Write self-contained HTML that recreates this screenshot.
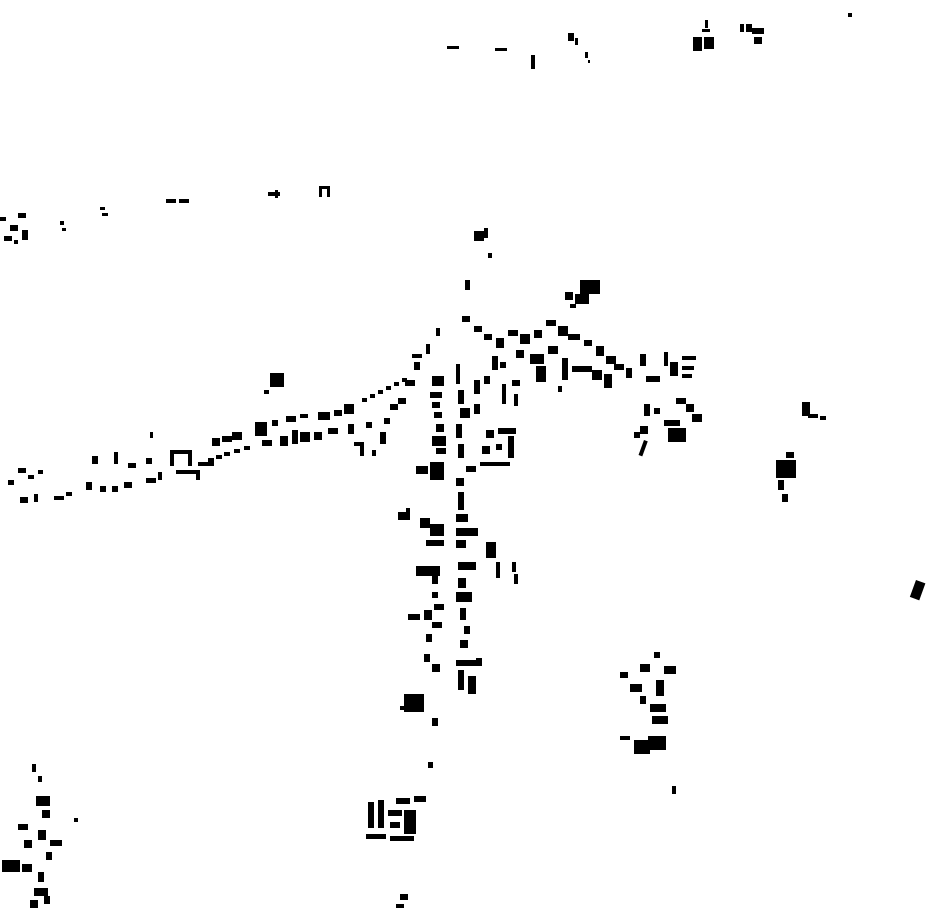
<!DOCTYPE html>
<html><head><meta charset="utf-8"><style>html,body{margin:0;padding:0;background:#fff}svg{display:block}</style></head>
<body>
<svg width="930" height="924" viewBox="0 0 930 924" xmlns="http://www.w3.org/2000/svg" fill="#000">
<rect x="447" y="46" width="12" height="3"/><rect x="495" y="48" width="12" height="3"/>
<rect x="531" y="55" width="4" height="14"/><rect x="568" y="33" width="6" height="8"/><rect x="575" y="38" width="3" height="7"/><rect x="585" y="52" width="3" height="6"/><rect x="588" y="60" width="2" height="3"/>
<rect x="693" y="37" width="9" height="14"/><rect x="704" y="37" width="10" height="12"/><rect x="705" y="20" width="3" height="8"/><rect x="702" y="29" width="8" height="3"/>
<rect x="740" y="24" width="4" height="8"/><rect x="746" y="24" width="6" height="8"/><rect x="752" y="28" width="12" height="6"/><rect x="754" y="37" width="8" height="7"/>
<rect x="848" y="13" width="4" height="4"/>
<rect x="0" y="217" width="6" height="4"/><rect x="18" y="213" width="8" height="5"/><rect x="10" y="225" width="8" height="6"/><rect x="4" y="236" width="8" height="5"/><rect x="22" y="230" width="6" height="10"/><rect x="14" y="240" width="4" height="4"/>
<rect x="60" y="221" width="4" height="4"/><rect x="62" y="228" width="4" height="3"/><rect x="100" y="207" width="5" height="3"/><rect x="102" y="213" width="6" height="3"/>
<rect x="166" y="199" width="10" height="4"/><rect x="179" y="199" width="10" height="4"/>
<rect x="268" y="192" width="12" height="4"/><rect x="275" y="190" width="3" height="8"/>
<rect x="319" y="186" width="10" height="3"/><rect x="319" y="186" width="3" height="11"/><rect x="327" y="186" width="3" height="11"/>
<rect x="474" y="231" width="10" height="10"/><rect x="484" y="228" width="4" height="10"/><rect x="488" y="253" width="4" height="5"/>
<rect x="465" y="280" width="5" height="10"/><rect x="580" y="280" width="20" height="14"/><rect x="565" y="292" width="8" height="8"/><rect x="575" y="294" width="14" height="10"/><rect x="570" y="304" width="6" height="4"/>
<rect x="270" y="373" width="14" height="14"/><rect x="264" y="390" width="5" height="4"/>
<g>
<rect x="8" y="480" width="6" height="5"/><rect x="18" y="468" width="8" height="5"/><rect x="28" y="475" width="6" height="4"/><rect x="38" y="470" width="5" height="4"/>
<rect x="20" y="497" width="8" height="6"/><rect x="34" y="494" width="4" height="8"/><rect x="54" y="496" width="10" height="4"/><rect x="66" y="492" width="6" height="4"/>
<rect x="86" y="482" width="6" height="8"/><rect x="92" y="456" width="6" height="8"/><rect x="100" y="486" width="6" height="6"/><rect x="112" y="486" width="6" height="6"/><rect x="114" y="452" width="4" height="12"/>
<rect x="124" y="482" width="8" height="6"/><rect x="128" y="463" width="8" height="5"/><rect x="146" y="478" width="10" height="5"/><rect x="146" y="458" width="6" height="6"/>
<rect x="158" y="472" width="4" height="8"/><rect x="170" y="450" width="22" height="4"/><rect x="170" y="450" width="4" height="16"/><rect x="188" y="450" width="4" height="16"/>
<rect x="150" y="432" width="3" height="6"/><rect x="198" y="462" width="16" height="4"/><rect x="196" y="470" width="4" height="10"/>
<rect x="208" y="458" width="6" height="4"/><rect x="216" y="455" width="6" height="4"/><rect x="224" y="452" width="6" height="4"/><rect x="234" y="449" width="6" height="4"/><rect x="244" y="446" width="6" height="4"/>
<rect x="176" y="470" width="22" height="4"/><rect x="212" y="438" width="8" height="8"/><rect x="222" y="436" width="10" height="6"/><rect x="232" y="432" width="10" height="8"/>
<rect x="255" y="422" width="12" height="14"/><rect x="262" y="440" width="10" height="6"/>
<rect x="272" y="420" width="6" height="6"/><rect x="280" y="436" width="8" height="10"/><rect x="292" y="430" width="6" height="14"/><rect x="300" y="432" width="10" height="10"/>
<rect x="286" y="416" width="10" height="6"/><rect x="300" y="414" width="8" height="4"/><rect x="318" y="412" width="12" height="8"/><rect x="334" y="410" width="8" height="6"/>
<rect x="314" y="432" width="8" height="8"/><rect x="328" y="428" width="10" height="6"/><rect x="344" y="404" width="10" height="10"/><rect x="348" y="424" width="6" height="10"/>
<rect x="354" y="442" width="10" height="4"/><rect x="360" y="446" width="4" height="10"/><rect x="366" y="422" width="6" height="6"/><rect x="372" y="450" width="4" height="6"/>
<rect x="380" y="432" width="6" height="12"/><rect x="384" y="418" width="6" height="6"/><rect x="390" y="404" width="8" height="6"/><rect x="398" y="398" width="8" height="6"/>
<rect x="362" y="398" width="5" height="4"/><rect x="370" y="394" width="5" height="4"/><rect x="378" y="390" width="5" height="4"/><rect x="386" y="386" width="5" height="4"/><rect x="394" y="382" width="5" height="4"/><rect x="402" y="378" width="5" height="4"/>
<rect x="405" y="380" width="10" height="6"/><rect x="412" y="354" width="10" height="4"/><rect x="426" y="344" width="4" height="10"/>
<rect x="436" y="328" width="4" height="8"/><rect x="432" y="376" width="12" height="10"/><rect x="414" y="362" width="6" height="8"/>
</g>
<g>
<rect x="430" y="392" width="12" height="6"/><rect x="432" y="402" width="8" height="6"/><rect x="434" y="412" width="8" height="6"/><rect x="436" y="424" width="8" height="8"/>
<rect x="432" y="436" width="14" height="10"/><rect x="436" y="448" width="10" height="6"/><rect x="416" y="466" width="12" height="8"/><rect x="430" y="462" width="14" height="18"/>
<rect x="456" y="364" width="4" height="20"/><rect x="458" y="390" width="6" height="14"/><rect x="460" y="408" width="10" height="10"/><rect x="456" y="424" width="6" height="14"/>
<rect x="458" y="444" width="6" height="14"/><rect x="466" y="466" width="10" height="6"/><rect x="456" y="478" width="8" height="8"/><rect x="458" y="492" width="6" height="18"/>
<rect x="456" y="514" width="12" height="8"/><rect x="398" y="512" width="12" height="8"/><rect x="406" y="508" width="4" height="6"/><rect x="420" y="518" width="10" height="10"/>
<rect x="430" y="524" width="14" height="12"/><rect x="426" y="540" width="18" height="6"/><rect x="456" y="528" width="22" height="8"/><rect x="456" y="540" width="10" height="8"/>
<rect x="486" y="542" width="10" height="16"/><rect x="458" y="562" width="18" height="8"/><rect x="416" y="566" width="24" height="10"/><rect x="432" y="576" width="6" height="8"/>
<rect x="496" y="562" width="4" height="16"/><rect x="512" y="562" width="4" height="10"/><rect x="514" y="574" width="4" height="10"/><rect x="458" y="578" width="8" height="10"/>
<rect x="456" y="592" width="16" height="10"/><rect x="432" y="592" width="6" height="6"/><rect x="434" y="604" width="10" height="6"/><rect x="408" y="614" width="12" height="6"/>
<rect x="424" y="610" width="8" height="10"/><rect x="460" y="608" width="6" height="12"/><rect x="432" y="622" width="10" height="6"/><rect x="464" y="626" width="6" height="8"/>
<rect x="426" y="634" width="6" height="8"/><rect x="460" y="640" width="8" height="8"/><rect x="424" y="654" width="6" height="8"/><rect x="456" y="660" width="24" height="6"/>
<rect x="432" y="664" width="8" height="8"/><rect x="458" y="670" width="6" height="20"/><rect x="468" y="676" width="8" height="18"/><rect x="476" y="658" width="6" height="8"/>
<rect x="404" y="694" width="20" height="18"/><rect x="400" y="706" width="10" height="4"/><rect x="432" y="718" width="6" height="8"/><rect x="428" y="762" width="5" height="6"/>
</g>
<g>
<rect x="462" y="316" width="8" height="6"/><rect x="474" y="326" width="8" height="6"/><rect x="484" y="334" width="8" height="6"/><rect x="496" y="338" width="8" height="10"/>
<rect x="508" y="330" width="10" height="6"/><rect x="520" y="334" width="10" height="10"/><rect x="534" y="330" width="8" height="8"/><rect x="546" y="320" width="10" height="6"/>
<rect x="516" y="350" width="8" height="8"/><rect x="530" y="354" width="14" height="10"/><rect x="536" y="366" width="10" height="16"/><rect x="548" y="346" width="10" height="8"/>
<rect x="558" y="326" width="10" height="10"/><rect x="568" y="334" width="12" height="6"/><rect x="584" y="340" width="8" height="6"/><rect x="596" y="346" width="8" height="10"/>
<rect x="606" y="356" width="10" height="8"/><rect x="562" y="358" width="6" height="22"/><rect x="572" y="366" width="20" height="6"/><rect x="592" y="370" width="10" height="10"/>
<rect x="604" y="374" width="8" height="14"/><rect x="614" y="364" width="10" height="6"/><rect x="626" y="368" width="6" height="10"/><rect x="640" y="354" width="6" height="12"/>
<rect x="646" y="376" width="14" height="6"/><rect x="664" y="352" width="4" height="14"/><rect x="670" y="362" width="8" height="14"/><rect x="682" y="356" width="14" height="4"/>
<rect x="682" y="366" width="12" height="4"/><rect x="682" y="374" width="10" height="4"/><rect x="492" y="356" width="6" height="14"/><rect x="500" y="362" width="6" height="6"/>
<rect x="474" y="380" width="6" height="14"/><rect x="484" y="376" width="6" height="8"/><rect x="474" y="404" width="6" height="10"/><rect x="502" y="384" width="4" height="20"/>
<rect x="512" y="380" width="8" height="6"/><rect x="514" y="394" width="4" height="12"/><rect x="486" y="430" width="8" height="8"/><rect x="498" y="428" width="18" height="6"/>
<rect x="482" y="446" width="8" height="8"/><rect x="480" y="462" width="30" height="4"/><rect x="508" y="436" width="6" height="22"/><rect x="496" y="444" width="6" height="6"/>
<rect x="558" y="386" width="4" height="6"/><rect x="644" y="404" width="6" height="12"/><rect x="640" y="426" width="8" height="8"/><rect x="634" y="432" width="6" height="6"/>
<rect x="664" y="420" width="16" height="6"/><rect x="668" y="428" width="18" height="14"/><rect x="676" y="398" width="10" height="6"/><rect x="686" y="404" width="8" height="8"/><rect x="692" y="414" width="10" height="8"/>
<rect x="644" y="440" width="4" height="16" transform="rotate(20 644 440)"/><rect x="654" y="408" width="6" height="6"/>
</g>
<rect x="802" y="402" width="8" height="14"/><rect x="808" y="414" width="10" height="4"/><rect x="820" y="416" width="6" height="4"/>
<rect x="776" y="460" width="20" height="18"/><rect x="786" y="452" width="8" height="6"/><rect x="778" y="480" width="6" height="10"/><rect x="782" y="494" width="6" height="8"/>
<rect x="916" y="580" width="10" height="18" transform="rotate(20 916 580)"/>
<rect x="654" y="652" width="6" height="6"/><rect x="664" y="666" width="12" height="8"/><rect x="640" y="664" width="10" height="8"/><rect x="620" y="672" width="8" height="6"/>
<rect x="630" y="684" width="12" height="8"/><rect x="656" y="680" width="8" height="16"/><rect x="640" y="696" width="6" height="8"/><rect x="650" y="704" width="16" height="8"/>
<rect x="652" y="716" width="16" height="8"/><rect x="620" y="736" width="10" height="4"/><rect x="634" y="740" width="16" height="14"/><rect x="648" y="736" width="18" height="14"/>
<rect x="672" y="786" width="4" height="8"/>
<rect x="368" y="802" width="6" height="26"/><rect x="378" y="800" width="6" height="28"/><rect x="388" y="810" width="14" height="6"/><rect x="404" y="810" width="12" height="24"/>
<rect x="390" y="822" width="10" height="6"/><rect x="396" y="798" width="14" height="6"/><rect x="414" y="796" width="12" height="6"/><rect x="366" y="834" width="20" height="5"/>
<rect x="390" y="836" width="24" height="5"/><rect x="400" y="894" width="8" height="6"/><rect x="396" y="904" width="8" height="4"/>
<rect x="32" y="764" width="4" height="8"/><rect x="38" y="776" width="4" height="6"/><rect x="36" y="796" width="14" height="10"/><rect x="42" y="810" width="8" height="8"/>
<rect x="18" y="824" width="10" height="6"/><rect x="38" y="830" width="8" height="10"/><rect x="24" y="840" width="8" height="8"/><rect x="50" y="840" width="12" height="6"/>
<rect x="46" y="852" width="6" height="8"/><rect x="2" y="860" width="18" height="12"/><rect x="22" y="864" width="10" height="8"/><rect x="38" y="872" width="6" height="10"/>
<rect x="34" y="888" width="14" height="8"/><rect x="30" y="900" width="8" height="8"/><rect x="44" y="896" width="6" height="8"/><rect x="74" y="818" width="4" height="4"/>
</svg>
</body></html>
